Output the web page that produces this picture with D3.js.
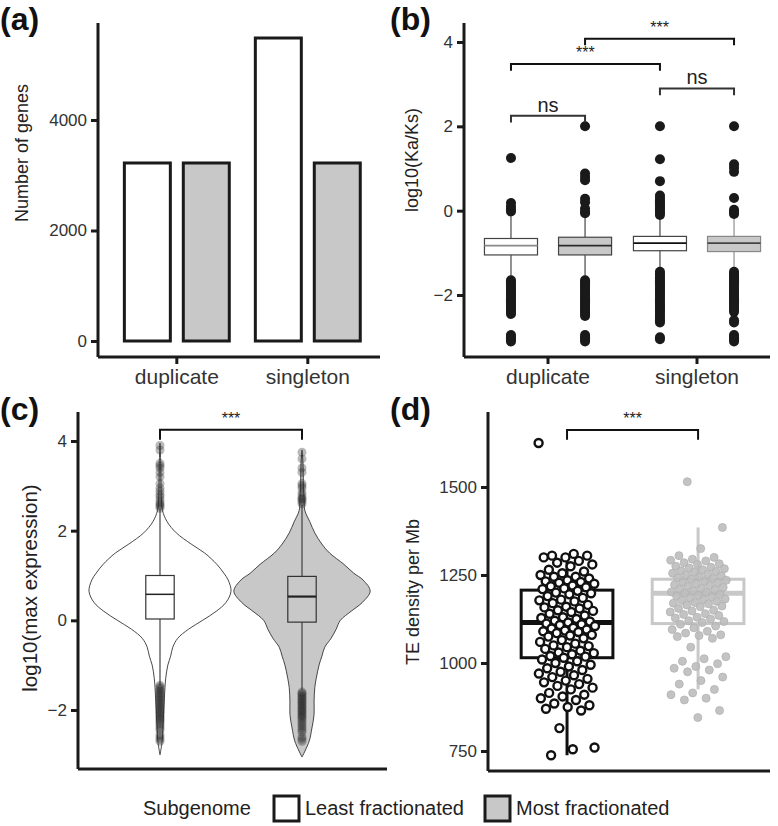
<!DOCTYPE html>
<html><head><meta charset="utf-8">
<script src="https://cdn.jsdelivr.net/npm/d3@7"></script>
<style>body{margin:0;background:#fff}svg{display:block}</style>
</head><body>
<svg id="chart" width="778" height="826"></svg>
<script>
// ---------------- DATA ----------------
const subgenomes = ["Least fractionated", "Most fractionated"];
const categories = ["duplicate", "singleton"];
const subgenomeFill = ["#ffffff", "#c8c8c8"];

// (a) number of genes
const geneCountLeast = [3222, 5484];
const geneCountMost = [3222, 3222];
const countTicks = [0, 2000, 4000];

// (b) log10(Ka/Ks) boxplots, order: dup-Least, dup-Most, single-Least, single-Most
const kaksCategory = ["duplicate", "duplicate", "singleton", "singleton"];
const kaksSubgenome = ["Least fractionated", "Most fractionated", "Least fractionated", "Most fractionated"];
const kaksQ1 = [-1.05, -1.05, -0.95, -0.97];
const kaksMedian = [-0.83, -0.83, -0.77, -0.77];
const kaksQ3 = [-0.66, -0.63, -0.61, -0.61];
const kaksLow = [-1.6, -1.6, -1.42, -1.42];
const kaksHigh = [-0.13, -0.12, -0.14, -0.11];
const kaksOutDupLeast = [1.25, 0.18, 0.1, 0.03, -0.02, -1.65, -1.7, -1.75, -1.8, -1.85, -1.9, -1.95, -2.0, -2.05, -2.1, -2.15, -2.2, -2.25, -2.3, -2.35, -2.4, -2.45, -2.95, -3.0, -3.05, -3.1];
const kaksOutDupMost = [2.0, 0.88, 0.8, 0.72, 0.28, 0.2, 0.05, -0.02, -0.06, -1.65, -1.7, -1.75, -1.8, -1.85, -1.9, -1.95, -2.0, -2.05, -2.1, -2.15, -2.2, -2.25, -2.3, -2.35, -2.4, -2.45, -2.5, -2.95, -3.0, -3.05, -3.1];
const kaksOutSingleLeast = [2.0, 1.22, 0.7, 0.36, 0.3, 0.25, 0.2, 0.15, 0.1, 0.05, 0.0, -0.05, -0.1, -1.45, -1.5, -1.55, -1.6, -1.65, -1.7, -1.75, -1.8, -1.85, -1.9, -1.95, -2.0, -2.05, -2.1, -2.15, -2.2, -2.25, -2.3, -2.35, -2.4, -2.45, -2.5, -2.55, -2.6, -2.65, -3.0, -3.05];
const kaksOutSingleMost = [2.0, 1.1, 1.02, 0.92, 0.3, 0.02, -0.02, -0.08, -1.45, -1.5, -1.55, -1.6, -1.65, -1.7, -1.75, -1.8, -1.85, -1.9, -1.95, -2.0, -2.05, -2.1, -2.15, -2.2, -2.25, -2.3, -2.35, -2.4, -2.6, -2.65, -2.95, -3.0, -3.05, -3.1];
const kaksMedianColor = ["#8a8a8a", "#2a2a2a", "#111111", "#444444"];
const kaksTicks = [-2, 0, 2, 4];
const kaksSigFrom = [0, 0, 2, 1];
const kaksSigTo = [1, 2, 3, 3];
const kaksSigLevel = [2.25, 3.48, 2.9, 4.08];
const kaksSigLabel = ["ns", "***", "ns", "***"];

// (c) log10(max expression) violins
const exprGridLeast = [-3.0, -2.7, -2.4, -2.1, -1.8, -1.5, -1.3, -1.0, -0.8, -0.6, -0.4, -0.2, 0.0, 0.2, 0.4, 0.65, 0.9, 1.05, 1.25, 1.5, 1.7, 1.95, 2.2, 2.45, 2.7, 3.0, 3.5, 3.95];
const exprDensLeast = [0, 0.03, 0.04, 0.05, 0.06, 0.07, 0.08, 0.11, 0.15, 0.18, 0.25, 0.4, 0.6, 0.79, 0.93, 1.0, 0.96, 0.9, 0.8, 0.63, 0.44, 0.23, 0.1, 0.035, 0.02, 0.014, 0.01, 0];
const exprGridMost = [-3.05, -2.7, -2.4, -2.1, -1.8, -1.5, -1.3, -1.0, -0.8, -0.6, -0.4, -0.2, 0.0, 0.2, 0.4, 0.65, 0.9, 1.05, 1.25, 1.5, 1.7, 1.95, 2.2, 2.45, 2.7, 3.0, 3.5, 3.8];
const exprDensMost = [0, 0.1, 0.14, 0.17, 0.17, 0.18, 0.2, 0.24, 0.28, 0.32, 0.41, 0.48, 0.54, 0.69, 0.85, 0.96, 0.86, 0.73, 0.59, 0.39, 0.28, 0.18, 0.11, 0.04, 0.03, 0.02, 0.014, 0];
const exprQ1 = [0.03, -0.04];
const exprMedian = [0.58, 0.53];
const exprQ3 = [1.0, 0.98];
const exprLow = [-1.45, -1.55];
const exprHigh = [2.48, 2.58];
const exprOutLeast = [3.9, 3.8, 3.5, 3.45, 3.4, 3.3, 3.2, 3.05, 2.95, 2.88, 2.8, 2.75, 2.68, 2.62, 2.58, 2.55, 2.5,
  -1.45, -1.48, -1.52, -1.55, -1.58, -1.62, -1.65, -1.68, -1.72, -1.75, -1.78, -1.82, -1.85, -1.88, -1.92, -1.95, -1.98, -2.02, -2.05, -2.08, -2.12, -2.15, -2.18, -2.22, -2.25, -2.3, -2.35, -2.4, -2.45, -2.55, -2.6, -2.65, -2.7];
const exprOutMost = [3.75, 3.6, 3.4, 3.3, 3.05, 3.0, 2.95, 2.85, 2.78, 2.72, 2.7, 2.65, 2.6,
  -1.6, -1.63, -1.66, -1.7, -1.73, -1.76, -1.8, -1.83, -1.86, -1.9, -1.93, -1.96, -2.0, -2.03, -2.06, -2.1, -2.13, -2.16, -2.2, -2.25, -2.3, -2.35, -2.4, -2.45, -2.5, -2.6, -2.65, -2.7];
const exprTicks = [-2, 0, 2, 4];
const exprSigLevel = 4.25;

// (d) TE density per Mb
const teLeast = [1625, 1310, 1305, 1305, 1300, 1300, 1290, 1285, 1280, 1275, 1265, 1260, 1255, 1250, 1245, 1245, 1240, 1235, 1232, 1230, 1228, 1225, 1220, 1218, 1215, 1212, 1210, 1205, 1200, 1198, 1195, 1190, 1185, 1180, 1178, 1175, 1170, 1165, 1160, 1158, 1155, 1150, 1148, 1145, 1140, 1135, 1130, 1128, 1125, 1120, 1118, 1115, 1112, 1110, 1108, 1105, 1100, 1098, 1095, 1092, 1090, 1088, 1085, 1080, 1078, 1075, 1070, 1065, 1060, 1055, 1050, 1048, 1045, 1040, 1035, 1030, 1028, 1025, 1020, 1018, 1015, 1010, 1005, 1000, 995, 990, 985, 980, 975, 970, 965, 960, 955, 950, 945, 940, 935, 930, 925, 915, 910, 905, 900, 895, 885, 880, 875, 870, 865, 815, 760, 755, 738];
const teMost = [1515, 1385, 1325, 1305, 1300, 1295, 1292, 1290, 1285, 1282, 1280, 1275, 1272, 1270, 1268, 1265, 1262, 1260, 1258, 1255, 1252, 1250, 1248, 1245, 1242, 1240, 1238, 1235, 1232, 1230, 1228, 1225, 1222, 1220, 1218, 1215, 1212, 1210, 1208, 1205, 1202, 1200, 1198, 1195, 1192, 1190, 1188, 1185, 1182, 1180, 1178, 1175, 1172, 1170, 1168, 1165, 1162, 1160, 1155, 1150, 1148, 1145, 1140, 1138, 1135, 1130, 1128, 1125, 1120, 1118, 1115, 1110, 1105, 1100, 1095, 1090, 1085, 1080, 1078, 1075, 1070, 1045, 1018, 1012, 1005, 998, 990, 985, 980, 975, 960, 950, 940, 925, 915, 910, 900, 895, 865, 845];
const teQ1 = [1015, 1112];
const teMedian = [1115, 1198];
const teQ3 = [1207, 1238];
const teLow = [738, 925];
const teHigh = [1310, 1385];
const teTicks = [750, 1000, 1250, 1500];
const teSigLevel = 1662;

// ---------------- DRAWING ----------------
const FONT = "'Liberation Sans', Arial, Helvetica, sans-serif";
const AX = "#1a1a1a";
const fmtInt = d3.format("d");
const svg = d3.select("#chart").attr("font-family", FONT);

function yAxis(scale, ticks, x, top, bottom) {
  svg.append("line").attr("x1", x).attr("x2", x).attr("y1", top).attr("y2", bottom)
    .attr("stroke", AX).attr("stroke-width", 3);
  const ax = d3.axisLeft(scale).tickValues(ticks).tickSize(7).tickPadding(4).tickFormat(fmtInt);
  const a = svg.append("g").attr("transform", `translate(${x},0)`).call(ax);
  a.select(".domain").remove();
  a.selectAll(".tick line").attr("stroke", AX).attr("stroke-width", 3);
  a.selectAll(".tick text").attr("font-size", 17).attr("fill", "#333").attr("font-family", FONT);
}
function xAxis(scale, y, left, right, showTicks) {
  svg.append("line").attr("x1", left).attr("x2", right).attr("y1", y).attr("y2", y)
    .attr("stroke", AX).attr("stroke-width", 3);
  if (!showTicks) return;
  const a = svg.append("g").attr("transform", `translate(0,${y})`)
    .call(d3.axisBottom(scale).tickSize(7).tickPadding(5));
  a.select(".domain").remove();
  a.selectAll(".tick line").attr("stroke", AX).attr("stroke-width", 3);
  a.selectAll(".tick text").attr("font-size", 21).attr("fill", "#333").attr("font-family", FONT);
}
function yTitle(text, x, y, size) {
  svg.append("text").attr("transform", `translate(${x},${y}) rotate(-90)`)
    .attr("text-anchor", "middle").attr("font-size", size || 18).attr("fill", "#222").text(text);
}
function panelLabel(text, x, y) {
  svg.append("text").attr("x", x).attr("y", y).attr("font-size", 32).attr("font-weight", "bold")
    .attr("fill", "#111").text(text);
}
function bracket(x1, x2, yLine, yTip, label, color, labelSize) {
  svg.append("path").attr("d", `M${x1},${yTip}V${yLine}H${x2}V${yTip}`)
    .attr("fill", "none").attr("stroke", color).attr("stroke-width", 2);
  svg.append("text").attr("x", (x1 + x2) / 2).attr("y", yLine - (label === "ns" ? 4 : 6))
    .attr("text-anchor", "middle").attr("font-size", labelSize).attr("fill", "#222").text(label);
}

// ===== (a) =====
{
  const x = d3.scaleBand().domain(categories).range([98, 380]).paddingInner(0.1).paddingOuter(0.1265).align(0.6);
  const xs = d3.scaleBand().domain(subgenomes).range([0, x.bandwidth()]).paddingInner(0.22).paddingOuter(0.11);
  const y = d3.scaleLinear().domain([0, 4000]).range([341, 120]);
  const rows = [];
  categories.forEach((c, i) => {
    rows.push({ c, s: subgenomes[0], v: geneCountLeast[i], f: subgenomeFill[0] });
    rows.push({ c, s: subgenomes[1], v: geneCountMost[i], f: subgenomeFill[1] });
  });
  svg.append("g").selectAll("rect").data(rows).join("rect")
    .attr("x", d => x(d.c) + xs(d.s)).attr("width", xs.bandwidth())
    .attr("y", d => y(d.v)).attr("height", d => y(0) - y(d.v))
    .attr("fill", d => d.f).attr("stroke", "#1a1a1a").attr("stroke-width", 3);
  yAxis(y, countTicks, 98, 23, 357);
  xAxis(x, 357, 98, 380, true);
  yTitle("Number of genes", 28, 153);
  panelLabel("(a)", 0, 30);
}

// ===== (b) =====
{
  const x = d3.scaleBand().domain(categories).range([464, 770]).paddingInner(0.1).paddingOuter(0.077).align(0.74);
  const xs = d3.scaleBand().domain(subgenomes).range([0, x.bandwidth()]).paddingInner(0.284).paddingOuter(0.047);
  const y = d3.scaleLinear().domain([-2, 4]).range([295, 42]);
  const outs = [kaksOutDupLeast, kaksOutDupMost, kaksOutSingleLeast, kaksOutSingleMost];
  const boxes = kaksQ1.map((q1, i) => ({
    cx: x(kaksCategory[i]) + xs(kaksSubgenome[i]) + xs.bandwidth() / 2,
    q1, med: kaksMedian[i], q3: kaksQ3[i], lo: kaksLow[i], hi: kaksHigh[i],
    fill: subgenomeFill[subgenomes.indexOf(kaksSubgenome[i])], mc: kaksMedianColor[i], out: outs[i]
  }));
  const w = xs.bandwidth();
  const g = svg.append("g");
  boxes.forEach((b, i) => {
    const wc = i === 3 ? "#999" : "#555";
    g.append("line").attr("x1", b.cx).attr("x2", b.cx).attr("y1", y(b.hi)).attr("y2", y(b.q3)).attr("stroke", wc).attr("stroke-width", 1.3);
    g.append("line").attr("x1", b.cx).attr("x2", b.cx).attr("y1", y(b.q1)).attr("y2", y(b.lo)).attr("stroke", wc).attr("stroke-width", 1.3);
    g.append("rect").attr("x", b.cx - w / 2).attr("width", w).attr("y", y(b.q3)).attr("height", y(b.q1) - y(b.q3))
      .attr("fill", b.fill).attr("stroke", i === 3 ? "#888" : "#444").attr("stroke-width", 1.2);
    g.append("line").attr("x1", b.cx - w / 2).attr("x2", b.cx + w / 2).attr("y1", y(b.med)).attr("y2", y(b.med))
      .attr("stroke", b.mc).attr("stroke-width", 1.8);
    g.selectAll(null).data(b.out).join("circle").attr("cx", b.cx).attr("cy", d => y(d)).attr("r", 5).attr("fill", "#1a1a1a");
  });
  kaksSigLabel.forEach((lab, i) => {
    const a = boxes[kaksSigFrom[i]].cx, bb = boxes[kaksSigTo[i]].cx;
    bracket(a, bb, y(kaksSigLevel[i]), y(kaksSigLevel[i] - 0.16), lab, lab === "ns" ? "#333" : "#111", lab === "ns" ? 20 : 16);
  });
  yAxis(y, kaksTicks, 464, 23, 357);
  xAxis(x, 357, 464, 770, true);
  yTitle("log10(Ka/Ks)", 418, 160);
  panelLabel("(b)", 390, 30);
}

// ===== (c) =====
{
  const x = d3.scaleBand().domain(subgenomes).range([78, 387]).paddingInner(0).paddingOuter(0.088).align(0.44);
  const y = d3.scaleLinear().domain([-2, 4]).range([710, 441]);
  const dw = d3.scaleLinear().domain([0, 1]).range([0, x.bandwidth() / 2]);
  const grids = [exprGridLeast, exprGridMost], dens = [exprDensLeast, exprDensMost];
  const outs = [exprOutLeast, exprOutMost];
  subgenomes.forEach((s, i) => {
    const cx = x(s) + x.bandwidth() / 2;
    const pts = grids[i].map((v, k) => ({ v, d: dens[i][k] }));
    const area = d3.area().curve(d3.curveCatmullRom.alpha(0.5))
      .y(d => y(d.v)).x0(d => cx - dw(d.d)).x1(d => cx + dw(d.d));
    svg.append("path").attr("d", area(pts)).attr("fill", subgenomeFill[i]).attr("stroke", "#333").attr("stroke-width", 0.9);
    const bw = x.bandwidth() * 0.2;
    svg.append("line").attr("x1", cx).attr("x2", cx).attr("y1", y(exprHigh[i])).attr("y2", y(exprLow[i])).attr("stroke", "#333").attr("stroke-width", 1.1);
    svg.append("rect").attr("x", cx - bw / 2).attr("width", bw).attr("y", y(exprQ3[i])).attr("height", y(exprQ1[i]) - y(exprQ3[i]))
      .attr("fill", subgenomeFill[i]).attr("stroke", "#333").attr("stroke-width", 1.2);
    svg.append("line").attr("x1", cx - bw / 2).attr("x2", cx + bw / 2).attr("y1", y(exprMedian[i])).attr("y2", y(exprMedian[i]))
      .attr("stroke", "#222").attr("stroke-width", i ? 2.2 : 1.5);
    svg.append("g").selectAll("circle").data(outs[i]).join("circle")
      .attr("cx", cx).attr("cy", d => y(d)).attr("r", 4.5).attr("fill", "#2a2a2a").attr("fill-opacity", 0.33);
  });
  const c0 = x(subgenomes[0]) + x.bandwidth() / 2, c1 = x(subgenomes[1]) + x.bandwidth() / 2;
  bracket(c0, c1, y(exprSigLevel), y(exprSigLevel - 0.22), "***", "#111", 16);
  yAxis(y, exprTicks, 78, 412, 769);
  xAxis(x, 769, 78, 387, false);
  yTitle("log10(max expression)", 37, 588, 20.5);
  panelLabel("(c)", 0, 420);
}

// ===== (d) =====
{
  const x = d3.scaleBand().domain(subgenomes).range([488, 770]).paddingInner(0.3).paddingOuter(0.226).align(0.56);
  const y = d3.scaleLinear().domain([750, 1500]).range([751, 487]);
  const vals = [teLeast, teMost];
  const strokeC = ["#111", "#c8c8c8"];
  subgenomes.forEach((s, i) => {
    const cx = x(s) + x.bandwidth() / 2, w = x.bandwidth();
    svg.append("line").attr("x1", cx).attr("x2", cx).attr("y1", y(teHigh[i])).attr("y2", y(teLow[i])).attr("stroke", strokeC[i]).attr("stroke-width", 3);
    svg.append("rect").attr("x", cx - w / 2).attr("width", w).attr("y", y(teQ3[i])).attr("height", y(teQ1[i]) - y(teQ3[i]))
      .attr("fill", "#fff").attr("stroke", strokeC[i]).attr("stroke-width", 3);
    svg.append("line").attr("x1", cx - w / 2).attr("x2", cx + w / 2).attr("y1", y(teMedian[i])).attr("y2", y(teMedian[i]))
      .attr("stroke", strokeC[i]).attr("stroke-width", 5);
    const jw = w * 0.62;
    const g = svg.append("g");
    g.selectAll("circle").data(vals[i]).join("circle")
      .attr("cx", (d, k) => cx + (((k * 0.6180339887 + i * 0.31) % 1) - 0.5) * jw)
      .attr("cy", d => y(d)).attr("r", 4)
      .attr("fill", i ? "#bdbdbd" : "#fff").attr("fill-opacity", i ? 0.9 : 1)
      .attr("stroke", i ? "#b3b3b3" : "#111").attr("stroke-width", i ? 0.8 : 2.4);
  });
  const c0 = x(subgenomes[0]) + x.bandwidth() / 2, c1 = x(subgenomes[1]) + x.bandwidth() / 2;
  bracket(c0, c1, y(teSigLevel), y(teSigLevel - 28), "***", "#111", 16);
  yAxis(y, teTicks, 488, 412, 771);
  xAxis(x, 771, 488, 770, false);
  yTitle("TE density per Mb", 419, 592);
  panelLabel("(d)", 390, 420);
}

// ===== legend =====
{
  const ly = 808;
  svg.append("text").attr("x", 143).attr("y", ly + 7).attr("font-size", 20).attr("fill", "#222").text("Subgenome");
  let cx = 274;
  subgenomes.forEach((s, i) => {
    svg.append("rect").attr("x", cx).attr("y", ly - 12).attr("width", 25).attr("height", 25)
      .attr("fill", subgenomeFill[i]).attr("stroke", "#1a1a1a").attr("stroke-width", 3);
    const t = svg.append("text").attr("x", cx + 31).attr("y", ly + 7).attr("font-size", 20).attr("fill", "#222").text(s);
    cx += 31 + t.node().getComputedTextLength() + 21;
  });
}
</script>
</body></html>
